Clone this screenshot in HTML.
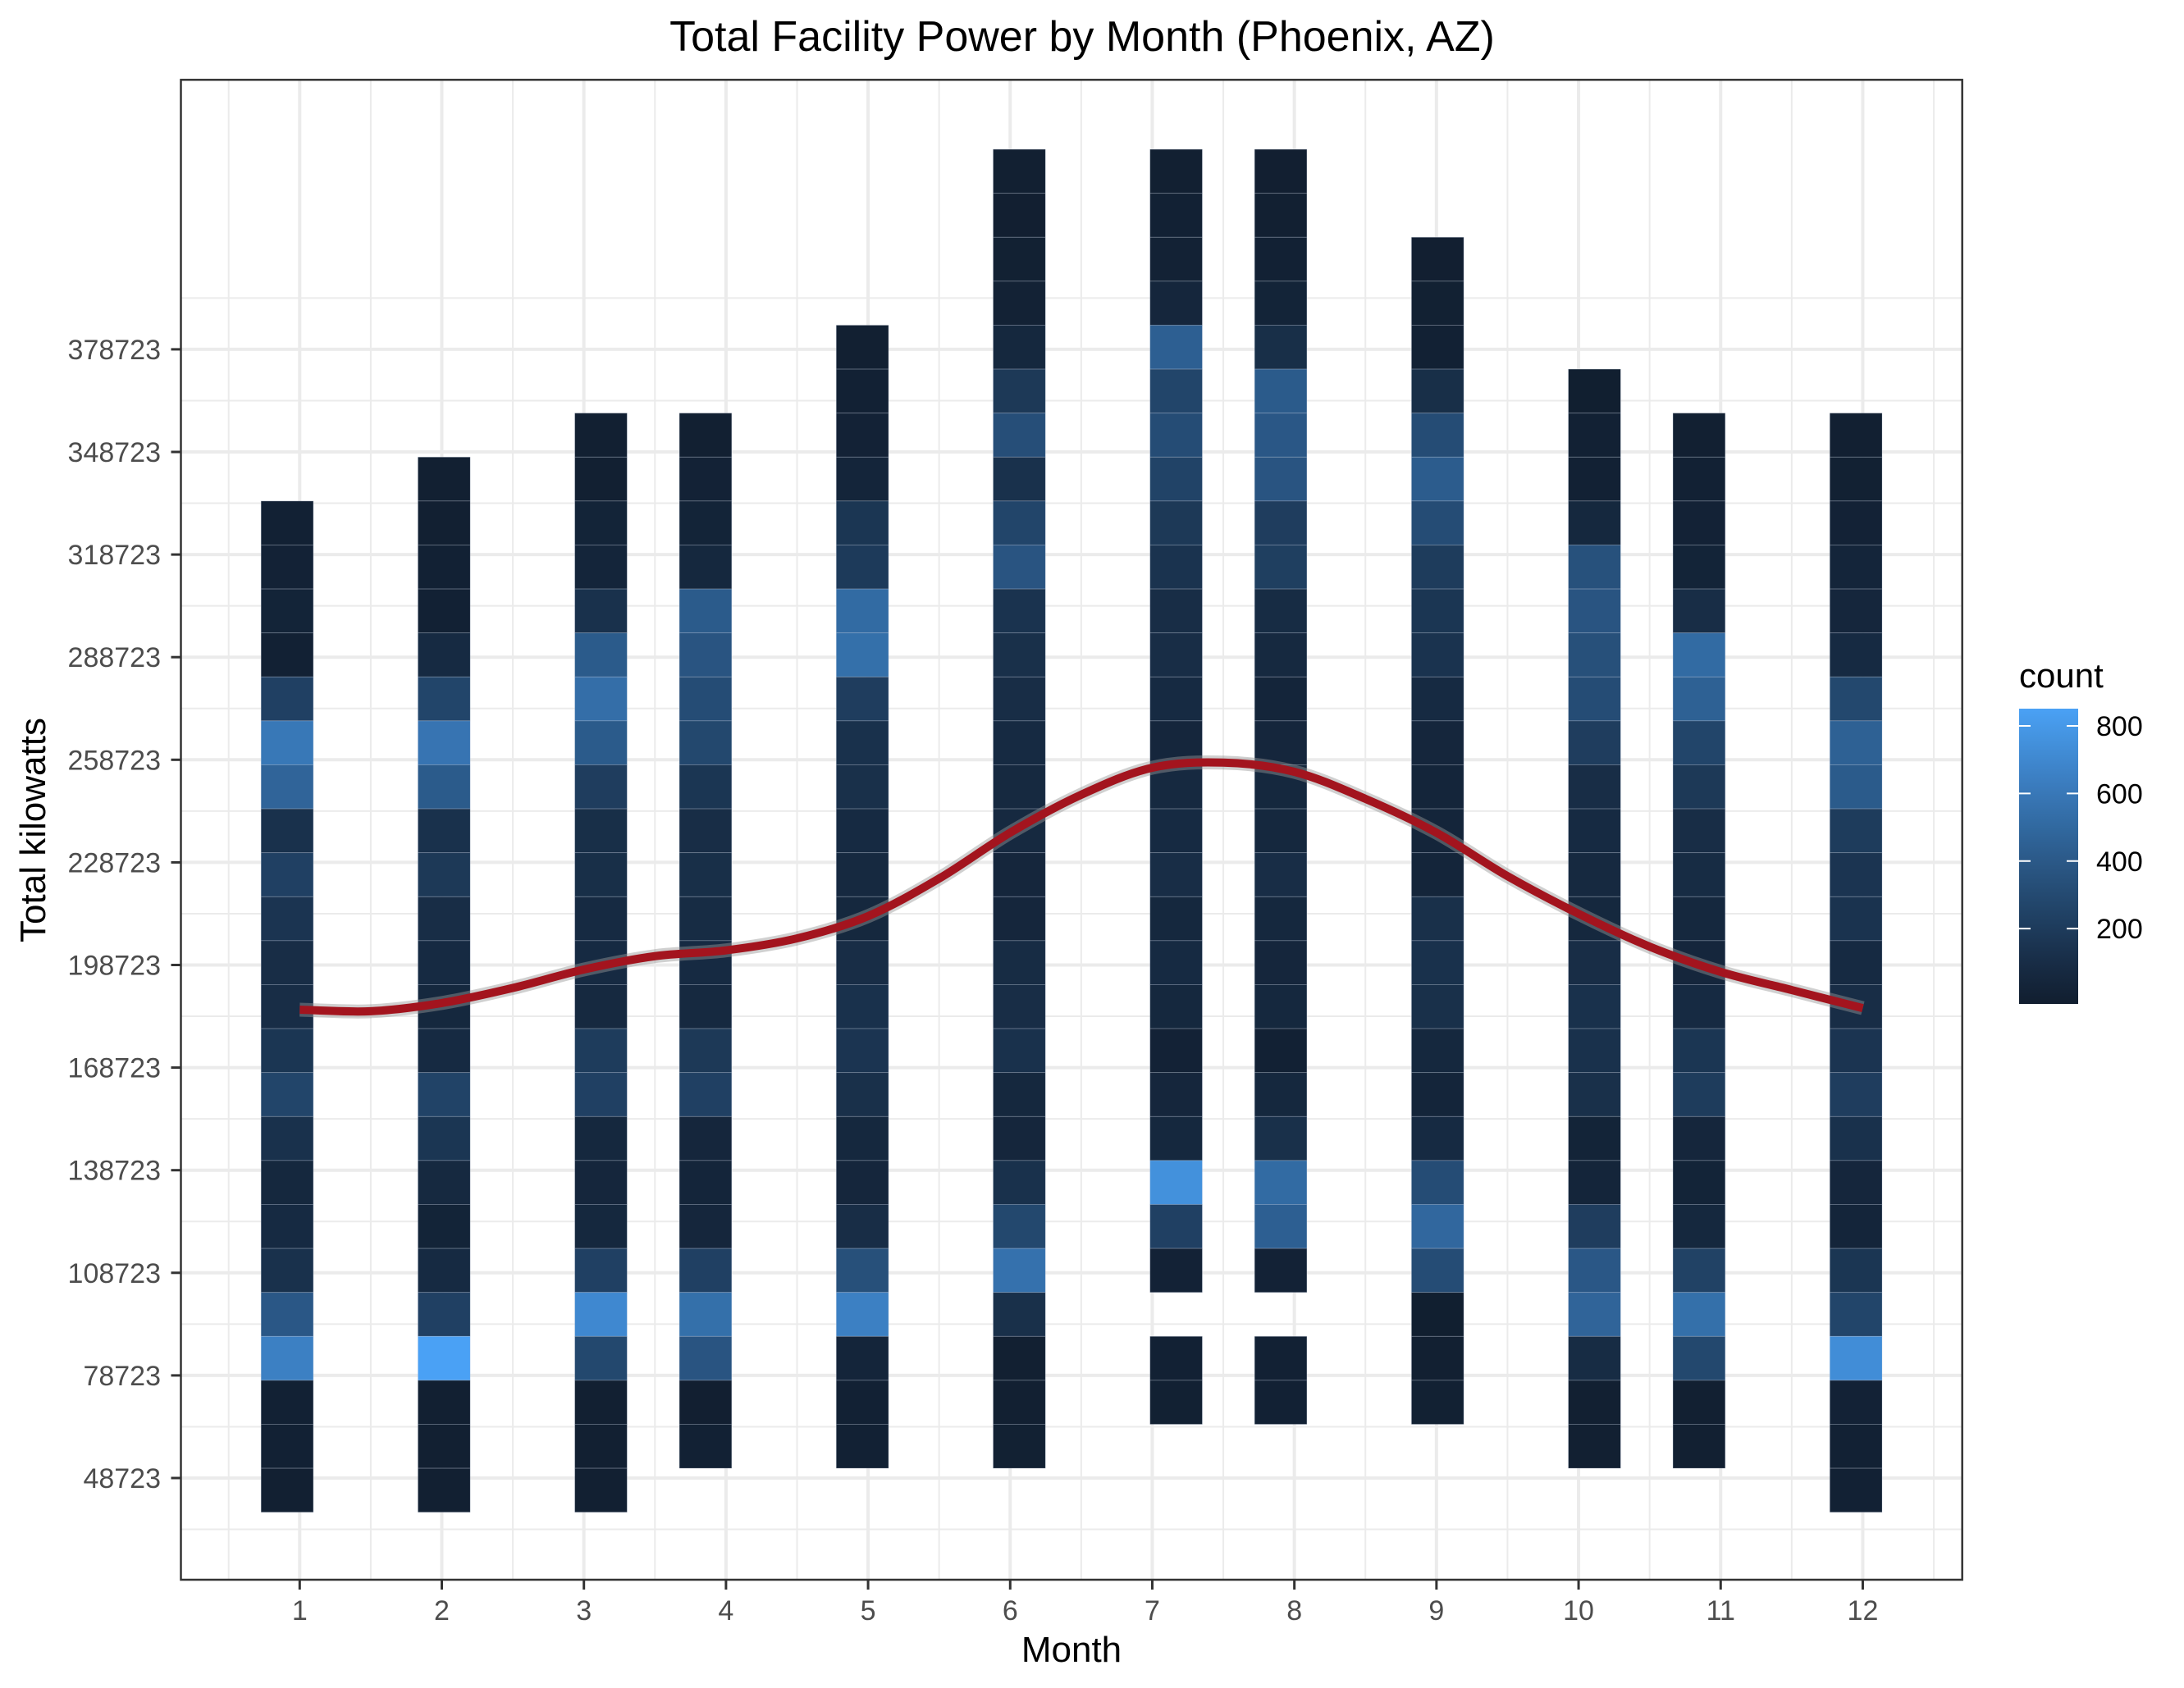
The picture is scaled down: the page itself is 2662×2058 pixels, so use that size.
<!DOCTYPE html>
<html><head><meta charset="utf-8"><title>Total Facility Power by Month</title>
<style>
html,body{margin:0;padding:0;background:#fff;}
svg{display:block;font-family:"Liberation Sans",Arial,sans-serif;}
</style></head>
<body>
<svg id="chart" width="2662" height="2058" viewBox="0 0 2662 2058" xmlns="http://www.w3.org/2000/svg">
  <rect x="0" y="0" width="2662" height="2058" fill="#ffffff"/>
  <g id="grid"></g>
  <g id="cells"></g>
  <g id="smooth"></g>
  <rect x="220.5" y="97.3" width="2171.2" height="1828.7" fill="none" stroke="#333333" stroke-width="2.5"/>
  <g id="axes"></g>
  <text x="1319" y="62" font-size="52" text-anchor="middle" fill="#000">Total Facility Power by Month (Phoenix, AZ)</text>
  <text x="1306" y="2026" font-size="44" text-anchor="middle" fill="#000">Month</text>
  <text x="0" y="0" font-size="44" text-anchor="middle" fill="#000" transform="translate(55,1012) rotate(-90)">Total kilowatts</text>
  <g id="legend">
    <text x="2461" y="838" font-size="42" fill="#000">count</text>
  </g>
</svg>
<script>
// ---- data ----
const monthTicks = [1,2,3,4,5,6,7,8,9,10,11,12];
const yTickValues = [48723,78723,108723,138723,168723,198723,228723,258723,288723,318723,348723,378723];
const legendTicks = [200,400,600,800];
const monthBins = [0,3,6,8,11,14,17,19,22,25,27,30];
const monthTopRows = [22,23,24,24,26,30,30,30,28,25,24,24];
// counts listed top row downward (null = empty bin)
const m1Counts = [30,40,50,30,250,600,480,150,250,170,120,120,180,280,150,80,100,150,400,650,30,30,20];
const m2Counts = [20,20,30,30,100,280,580,420,150,200,120,100,80,100,270,180,90,50,100,250,850,20,20,20];
const m3Counts = [20,20,50,60,150,420,540,420,230,130,130,100,100,90,220,250,80,70,80,250,700,300,20,20,20];
const m4Counts = [20,40,50,80,420,380,330,300,180,120,130,110,100,90,200,250,70,60,70,250,550,380,15,30];
const m5Counts = [20,30,40,60,180,210,520,550,230,150,140,100,90,80,120,150,170,140,80,70,120,350,650,60,30,30];
const m6Counts = [20,15,25,35,80,200,340,150,280,380,160,140,120,100,90,90,70,70,110,120,150,80,70,150,300,560,140,20,20,25];
const m7Counts = [20,30,35,70,450,280,330,270,200,160,120,120,100,70,90,100,120,80,100,80,40,70,80,750,250,40,null,30,25];
const m8Counts = [15,20,30,50,130,420,400,380,230,240,110,90,60,70,80,80,120,80,70,80,30,80,140,520,450,40,null,30,30];
const m9Counts = [15,25,30,130,330,430,330,220,180,160,100,70,60,60,60,140,150,140,80,60,100,330,500,330,10,20,25];
const m10Counts = [10,30,30,80,360,380,350,330,230,120,100,90,80,120,150,150,140,50,60,230,400,480,110,20,20];
const m11Counts = [20,30,40,50,120,520,460,280,200,120,110,80,70,100,180,220,70,50,80,260,550,300,20,20];
const m12Counts = [20,25,40,60,70,100,300,460,420,220,170,160,100,120,170,230,150,70,60,180,280,730,40,30,30];
const smoothMonths = [1,1.5,2,2.5,3,3.5,4,4.5,5,5.5,6,6.5,7,7.5,8,8.5,9,9.5,10,10.5,11,11.5,12];
const smoothValues = [185650,185200,187600,192000,197400,201300,203000,206500,213000,224000,237400,248500,256400,257900,255200,247300,237400,224700,213700,204100,196700,191400,186100];

const allCounts = [m1Counts,m2Counts,m3Counts,m4Counts,m5Counts,m6Counts,m7Counts,m8Counts,m9Counts,m10Counts,m11Counts,m12Counts];

// ---- scales ----
const X0=220.5, X1=2391.7, Y0=1926, Y1=97.3;
const xMin=0.164, xMax=12.70, yMin=18987, yMax=457523;
function px(m){return X0+(m-xMin)/(xMax-xMin)*(X1-X0);}
function py(v){return Y0-(v-yMin)/(yMax-yMin)*(Y0-Y1);}
const binOrigin=0.912, binW=0.368, rowOrigin=38723, rowH=12854;
const cMin=1, cMax=846;
const lowC=[17,30,47], highC=[74,161,245];
function colorFor(c){
  let t=Math.max(0,Math.min(1,(c-cMin)/(cMax-cMin)));
  t=Math.pow(t,1.1);
  const r=lowC.map((a,i)=>Math.round(a+(highC[i]-a)*t));
  return 'rgb('+r.join(',')+')';
}
const NS='http://www.w3.org/2000/svg';
function mk(tag,attrs,parent){const e=document.createElementNS(NS,tag);for(const k in attrs)e.setAttribute(k,attrs[k]);parent.appendChild(e);return e;}

// ---- grid ----
const grid=document.getElementById('grid');
for(let m=0.5;m<=12.5;m+=1){
  const g=mk('line',{x1:px(m),x2:px(m),y1:Y1,y2:Y0,stroke:'#EBEBEB','stroke-width':2},grid);
  
  
}
monthTicks.forEach(m=>{
  const g=mk('line',{x1:px(m),x2:px(m),y1:Y1,y2:Y0,stroke:'#EBEBEB','stroke-width':4},grid);
  
  
});
for(let v=33723;v<=408723;v+=30000){
  const g=mk('line',{x1:X0,x2:X1,y1:py(v),y2:py(v),stroke:'#EBEBEB','stroke-width':2},grid);
  
  
}
yTickValues.forEach(v=>{
  const g=mk('line',{x1:X0,x2:X1,y1:py(v),y2:py(v),stroke:'#EBEBEB','stroke-width':4},grid);
  
  
});

// ---- cells ----
const cells=document.getElementById('cells');
allCounts.forEach((arr,mi)=>{
  const c=binOrigin+binW*monthBins[mi];
  const xa=px(c-binW/2), xb=px(c+binW/2);
  arr.forEach((cnt,j)=>{
    if(cnt===null) return;
    const row=monthTopRows[mi]-j;
    const v0=rowOrigin+row*rowH, v1=v0+rowH;
    const r=mk('rect',{x:xa,y:py(v1),width:xb-xa,height:py(v0)-py(v1),fill:colorFor(cnt),stroke:'rgba(200,210,225,0.35)','stroke-width':0.8},cells);
    
    
  });
});

// ---- smooth ----
const sm=document.getElementById('smooth');
const pts=smoothMonths.map((m,i)=>[px(m),py(smoothValues[i])]);
let d='M'+pts[0][0]+','+pts[0][1];
for(let i=0;i<pts.length-1;i++){
  const p0=pts[Math.max(0,i-1)],p1=pts[i],p2=pts[i+1],p3=pts[Math.min(pts.length-1,i+2)];
  const c1=[p1[0]+(p2[0]-p0[0])/6,p1[1]+(p2[1]-p0[1])/6];
  const c2=[p2[0]-(p3[0]-p1[0])/6,p2[1]-(p3[1]-p1[1])/6];
  d+=' C'+c1[0]+','+c1[1]+' '+c2[0]+','+c2[1]+' '+p2[0]+','+p2[1];
}
const rib=mk('path',{d:d,fill:'none',stroke:'rgba(150,150,150,0.45)','stroke-width':17},sm);


const ln=mk('path',{d:d,fill:'none',stroke:'#A3141E','stroke-width':10,'stroke-linecap':'butt'},sm);



// ---- axes ----
const axes=document.getElementById('axes');
monthTicks.forEach(m=>{
  const t=mk('line',{x1:px(m),x2:px(m),y1:Y0,y2:Y0+12,stroke:'#333','stroke-width':3},axes);
  
  
  const l=mk('text',{x:px(m),y:1975,'font-size':34,'text-anchor':'middle',fill:'#4D4D4D'},axes);
  l.textContent=m;
  
  
});
yTickValues.forEach(v=>{
  const t=mk('line',{x1:X0-12,x2:X0,y1:py(v),y2:py(v),stroke:'#333','stroke-width':3},axes);
  
  
  const l=mk('text',{x:196,y:py(v)+12,'font-size':34,'text-anchor':'end',fill:'#4D4D4D'},axes);
  l.textContent=v;
  
  
});

// ---- legend ----
const leg=document.getElementById('legend');
const defs=mk('defs',{},leg);
const grad=mk('linearGradient',{id:'cbar',x1:0,y1:1,x2:0,y2:0},defs);
for(let i=0;i<=10;i++){
  mk('stop',{offset:(i/10),'stop-color':colorFor(cMin+(cMax-cMin)*i/10)},grad);
}
const LB0=1224, LB1=864, lgLow=-23, lgHigh=851;
function ly(c){return LB0-(c-lgLow)/(lgHigh-lgLow)*(LB0-LB1);}
const bar=mk('rect',{x:2461,y:LB1,width:72,height:LB0-LB1,fill:'url(#cbar)'},leg);


legendTicks.forEach(c=>{
  const y=ly(c);
  const a=mk('line',{x1:2461,x2:2475,y1:y,y2:y,stroke:'#fff','stroke-width':2},leg);
  
  
  const b=mk('line',{x1:2519,x2:2533,y1:y,y2:y,stroke:'#fff','stroke-width':2},leg);
  
  
  const t=mk('text',{x:2555,y:y+12,'font-size':34,fill:'#000'},leg);
  t.textContent=c;
  
  
});
</script>
</body></html>
